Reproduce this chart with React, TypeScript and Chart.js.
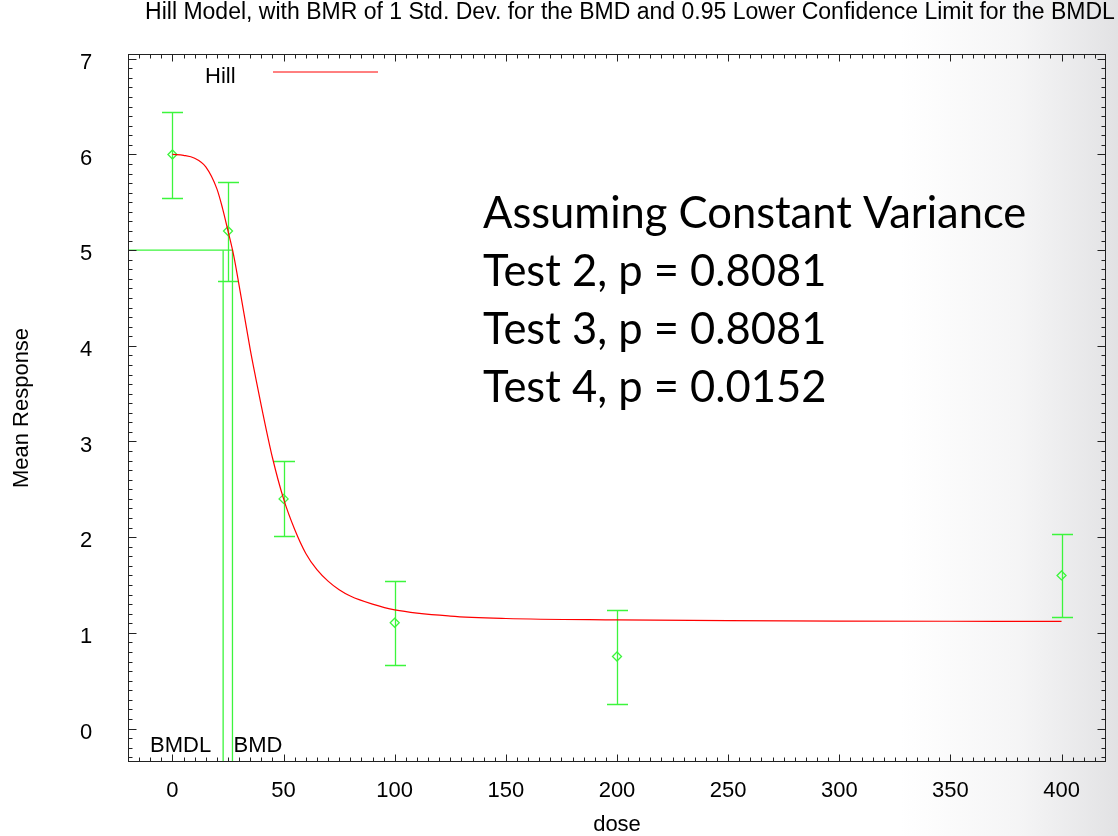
import React, { useEffect, useRef } from 'react';
import { Chart, registerables } from 'chart.js';

Chart.register(...registerables);

// Observed group means with their error limits
const doses = [0, 25, 50, 100, 200, 400];
const means = [6.0, 5.2, 2.4, 1.105, 0.753, 1.6];
const lowerLimits = [5.547, 4.675, 2.01, 0.662, 0.258, 1.168];
const upperLimits = [6.446, 5.714, 2.794, 1.54, 1.241, 2.035];

// Fitted Hill model response, sampled along the dose axis
const curveDoses = [0, 5, 10, 15, 20, 22.5, 25, 27.5, 30, 35, 37.5, 40, 45, 50, 55, 60, 65, 70, 75, 80, 90, 100, 125, 150, 200, 250, 300, 350, 400];
const curveValues = [6.0, 5.99, 5.96, 5.87, 5.64, 5.44, 5.2, 4.95, 4.63, 3.96, 3.66, 3.37, 2.83, 2.4, 2.08, 1.83, 1.66, 1.54, 1.45, 1.385, 1.3, 1.24, 1.175, 1.15, 1.135, 1.127, 1.123, 1.121, 1.12];

// Benchmark dose results
const bmrResponse = 5.0;
const bmd = 27.0;
const bmdl = 22.8;

// Axis ranges and labelled ticks
const xMin = -20;
const xMax = 420;
const yMin = -0.35;
const yMax = 7.05;
const xTickLabels = [0, 50, 100, 150, 200, 250, 300, 350, 400];
const yTickLabels = [0, 1, 2, 3, 4, 5, 6, 7];

const titleText = 'Hill Model, with BMR of 1 Std. Dev. for the BMD and 0.95 Lower Confidence Limit for the BMDL';
const noteLines = ['Assuming Constant Variance', 'Test 2, p = 0.8081', 'Test 3, p = 0.8081', 'Test 4, p = 0.0152'];

const GREEN = 'rgb(60,245,60)';
const RED = '#ff0000';
const SANS = '"Liberation Sans", Arial, Helvetica, sans-serif';

const backgroundPlugin = {
  id: 'slideBackground',
  beforeDraw(chart: any) {
    const { ctx, width, height } = chart;
    ctx.save();
    ctx.fillStyle = '#ffffff';
    ctx.fillRect(0, 0, width, height);
    const g = ctx.createLinearGradient(900, 0, width, 0);
    g.addColorStop(0, 'rgba(226,226,228,0)');
    g.addColorStop(0.55, 'rgba(226,226,228,0.35)');
    g.addColorStop(1, 'rgba(226,226,228,1)');
    ctx.fillStyle = g;
    ctx.fillRect(900, 0, width - 900, height);
    ctx.restore();
  },
};

const errorBarPlugin = {
  id: 'errorBars',
  beforeDatasetsDraw(chart: any) {
    const { ctx, scales } = chart;
    const xs = scales.x;
    const ys = scales.y;
    ctx.save();
    ctx.strokeStyle = GREEN;
    ctx.lineWidth = 1.3;
    doses.forEach((d, i) => {
      const px = Math.round(xs.getPixelForValue(d)) + 0.5;
      const pLo = Math.round(ys.getPixelForValue(lowerLimits[i])) + 0.5;
      const pHi = Math.round(ys.getPixelForValue(upperLimits[i])) + 0.5;
      ctx.beginPath();
      ctx.moveTo(px, pLo);
      ctx.lineTo(px, pHi);
      ctx.moveTo(px - 10.5, pLo);
      ctx.lineTo(px + 10.5, pLo);
      ctx.moveTo(px - 10.5, pHi);
      ctx.lineTo(px + 10.5, pHi);
      ctx.stroke();
    });
    ctx.restore();
  },
};

const framePlugin = {
  id: 'frameAndText',
  afterDraw(chart: any) {
    const { ctx, chartArea, scales } = chart;
    const xs = scales.x;
    const ys = scales.y;
    const { left, right, top, bottom } = chartArea;
    ctx.save();

    // plot border
    ctx.strokeStyle = '#222222';
    ctx.lineWidth = 1;
    const L = Math.round(left) + 0.5;
    const R = Math.round(right) - 0.5;
    const T = Math.round(top) + 0.5;
    const B = Math.round(bottom) - 0.5;
    ctx.strokeRect(L, T, R - L, B - T);

    // x ticks, mirrored on the top edge
    ctx.beginPath();
    for (let k = -4; k <= 84; k++) {
      const v = k * 5;
      if (v <= xMin || v >= xMax) continue;
      const px = Math.round(xs.getPixelForValue(v)) + 0.5;
      const len = v % 50 === 0 ? 7 : 4;
      ctx.moveTo(px, B);
      ctx.lineTo(px, B - len);
      ctx.moveTo(px, T);
      ctx.lineTo(px, T + len);
    }
    // y ticks, mirrored on the right edge
    for (let k = -3; k <= 70; k++) {
      const v = k / 10;
      if (v <= yMin || v >= yMax) continue;
      const py = Math.round(ys.getPixelForValue(v)) + 0.5;
      const len = k % 10 === 0 ? 8 : 4;
      ctx.moveTo(L, py);
      ctx.lineTo(L + len, py);
      ctx.moveTo(R, py);
      ctx.lineTo(R - len, py);
    }
    ctx.stroke();

    // tick labels
    ctx.fillStyle = '#000000';
    ctx.font = `22px ${SANS}`;
    ctx.textAlign = 'center';
    ctx.textBaseline = 'middle';
    xTickLabels.forEach((v) => {
      ctx.fillText(String(v), xs.getPixelForValue(v), bottom + 29);
    });
    yTickLabels.forEach((v) => {
      ctx.fillText(String(v), left - 42, ys.getPixelForValue(v) + 4);
    });

    // axis titles
    ctx.fillText('dose', (left + right) / 2, 825);
    ctx.save();
    ctx.translate(22, (top + bottom) / 2);
    ctx.rotate(-Math.PI / 2);
    ctx.fillText('Mean Response', 0, 0);
    ctx.restore();

    // chart title
    ctx.font = `23px ${SANS}`;
    ctx.fillText(titleText, 630, 13);

    // legend
    ctx.font = `22px ${SANS}`;
    ctx.textAlign = 'left';
    ctx.fillText('Hill', 205, 77);
    ctx.strokeStyle = RED;
    ctx.lineWidth = 1;
    ctx.beginPath();
    ctx.moveTo(273, 72);
    ctx.lineTo(378, 72);
    ctx.stroke();

    // benchmark dose labels
    const labelY = ys.getPixelForValue(yMin) - 16;
    ctx.textAlign = 'right';
    ctx.fillText('BMDL', xs.getPixelForValue(bmdl) - 12, labelY);
    ctx.textAlign = 'left';
    ctx.fillText('BMD', xs.getPixelForValue(bmd) + 1, labelY);

    // test results note
    ctx.font = `43.5px Lato, "Open Sans", sans-serif`;
    ctx.textBaseline = 'alphabetic';
    const baselines = [228, 286, 344, 402];
    noteLines.forEach((line, i) => ctx.fillText(line, 483, baselines[i]));

    ctx.restore();
  },
};

export default function App() {
  const canvasRef = useRef<HTMLCanvasElement | null>(null);

  useEffect(() => {
    const canvas = canvasRef.current;
    if (!canvas) return;
    const chart = new Chart(canvas, {
      type: 'scatter',
      data: {
        datasets: [
          {
            type: 'line',
            label: 'Hill',
            data: curveDoses.map((d, i) => ({ x: d, y: curveValues[i] })),
            borderColor: RED,
            borderWidth: 1.2,
            pointRadius: 0,
            cubicInterpolationMode: 'monotone',
            fill: false,
          },
          {
            type: 'line',
            label: 'BMD',
            data: [
              { x: xMin, y: bmrResponse },
              { x: bmd, y: bmrResponse },
              { x: bmd, y: yMin },
            ],
            borderColor: GREEN,
            borderWidth: 1.3,
            pointRadius: 0,
            tension: 0,
            fill: false,
          },
          {
            type: 'line',
            label: 'BMDL',
            data: [
              { x: bmdl, y: bmrResponse },
              { x: bmdl, y: yMin },
            ],
            borderColor: GREEN,
            borderWidth: 1.3,
            pointRadius: 0,
            tension: 0,
            fill: false,
          },
          {
            type: 'scatter',
            label: 'Mean',
            data: doses.map((d, i) => ({ x: d, y: means[i] })),
            pointStyle: 'rectRot',
            pointRadius: 4.5,
            borderColor: GREEN,
            backgroundColor: 'rgba(0,0,0,0)',
            borderWidth: 1.3,
          },
        ],
      } as any,
      options: {
        animation: false,
        responsive: false,
        maintainAspectRatio: false,
        layout: { padding: { left: 128, top: 54, right: 12, bottom: 74 } },
        scales: {
          x: { type: 'linear', min: xMin, max: xMax, display: false },
          y: { type: 'linear', min: yMin, max: yMax, display: false },
        },
        plugins: {
          legend: { display: false },
          tooltip: { enabled: false },
        },
      },
      plugins: [backgroundPlugin, errorBarPlugin, framePlugin],
    });
    return () => chart.destroy();
  }, []);

  return (
    <div style={{ position: 'absolute', left: 0, top: 0, width: 1118, height: 836 }}>
      <canvas ref={canvasRef} width={1118} height={836} style={{ display: 'block' }} />
    </div>
  );
}
